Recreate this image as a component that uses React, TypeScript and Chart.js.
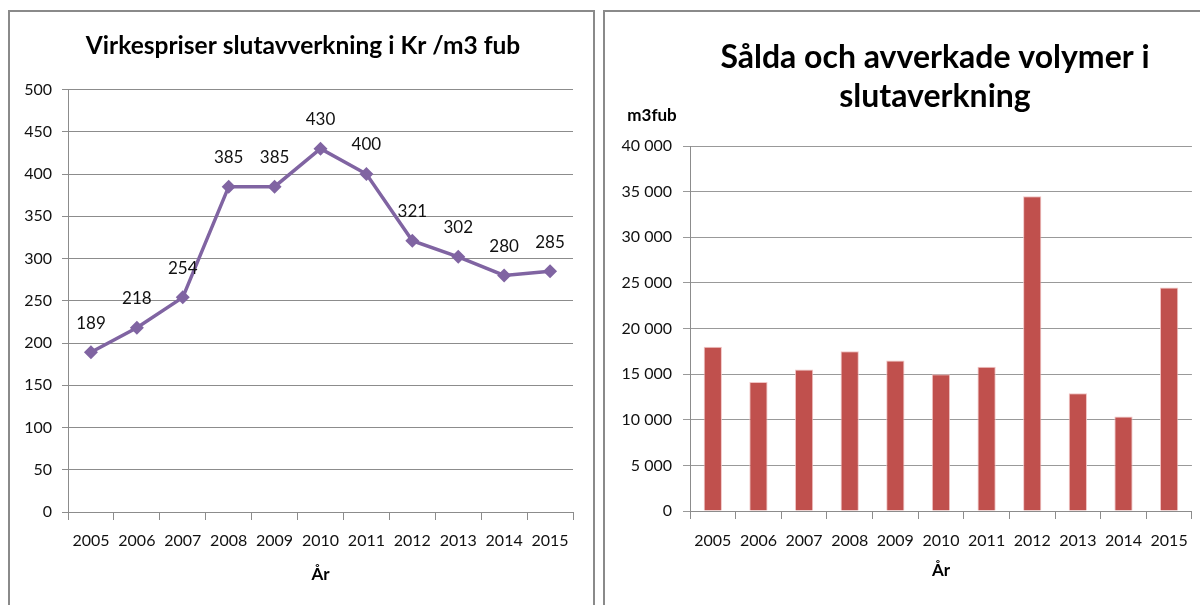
import React, { useEffect, useRef } from "react";
import { Chart, registerables } from "chart.js";

Chart.register(...registerables);

const years = ["2005", "2006", "2007", "2008", "2009", "2010", "2011", "2012", "2013", "2014", "2015"];
const prices = [189, 218, 254, 385, 385, 430, 400, 321, 302, 280, 285];
const volumes = [18000, 14150, 15500, 17500, 16500, 15000, 15800, 34500, 12900, 10350, 24500];

const leftTitle = "Virkespriser slutavverkning i Kr /m3 fub";
const rightTitle = ["Sålda och avverkade volymer i", "slutaverkning"];
const rightUnit = "m3fub";
const xTitle = "År";

const FONT = "Lato, 'Open Sans', sans-serif";
const GRID = "#8c8c8c";
const TEXT = "#111";

const fmt = (v: number) => String(v).replace(/\B(?=(\d{3})+(?!\d))/g, " ");

function LeftChart() {
  const ref = useRef<HTMLCanvasElement>(null);
  useEffect(() => {
    const titlePlugin = {
      id: "leftTitle",
      afterDraw(chart: any) {
        const { ctx } = chart;
        ctx.save();
        ctx.font = `bold 24.5px ${FONT}`;
        ctx.fillStyle = "#000";
        ctx.textAlign = "center";
        ctx.textBaseline = "middle";
        ctx.fillText(leftTitle, 293, 34);
        ctx.restore();
      },
    };
    const labelPlugin = {
      id: "pointLabels",
      afterDatasetsDraw(chart: any) {
        const { ctx } = chart;
        const meta = chart.getDatasetMeta(0);
        ctx.save();
        ctx.font = `17px ${FONT}`;
        ctx.fillStyle = TEXT;
        ctx.textAlign = "center";
        ctx.textBaseline = "middle";
        meta.data.forEach((el: any, i: number) => {
          ctx.fillText(String(prices[i]), el.x, el.y - 29);
        });
        ctx.restore();
      },
    };
    const chart = new Chart(ref.current!, {
      type: "line",
      data: {
        labels: years,
        datasets: [
          {
            data: prices,
            borderColor: "#8064A2",
            backgroundColor: "#8064A2",
            borderWidth: 3.5,
            tension: 0,
            pointStyle: "rectRot",
            pointRadius: 7,
            pointBorderWidth: 0,
            pointBackgroundColor: "#8064A2",
          },
        ],
      },
      options: {
        animation: false,
        responsive: false,
        layout: { padding: { left: 10, right: 19, top: 77.5, bottom: 0 } },
        plugins: { legend: { display: false }, title: { display: false }, tooltip: { enabled: false } },
        scales: {
          x: {
            offset: true,
            grid: { offset: true, drawOnChartArea: false, drawTicks: true, tickLength: 8, color: GRID },
            border: { display: true, color: GRID },
            ticks: { padding: 11, color: TEXT, font: { family: FONT, size: 16 } },
            title: {
              display: true,
              text: xTitle,
              color: "#000",
              font: { family: FONT, size: 17, weight: "bold" },
              padding: { top: 0, bottom: 20 },
            },
            afterFit(scale: any) {
              scale.height = 93;
            },
          },
          y: {
            min: 0,
            max: 500,
            ticks: { stepSize: 50, padding: 10, color: TEXT, font: { family: FONT, size: 16 } },
            grid: { color: GRID, tickLength: 6, drawTicks: true },
            border: { display: true, color: GRID },
            afterFit(scale: any) {
              scale.width = 48;
            },
          },
        },
      },
      plugins: [titlePlugin, labelPlugin],
    });
    return () => chart.destroy();
  }, []);
  return <canvas ref={ref} width={582} height={593} style={{ position: "absolute", left: 0, top: 0 }} />;
}

function RightChart() {
  const ref = useRef<HTMLCanvasElement>(null);
  useEffect(() => {
    const titlePlugin = {
      id: "rightTitle",
      afterDraw(chart: any) {
        const { ctx } = chart;
        ctx.save();
        ctx.fillStyle = "#000";
        ctx.textAlign = "center";
        ctx.textBaseline = "middle";
        ctx.font = `bold 32px ${FONT}`;
        ctx.fillText(rightTitle[0], 330, 46);
        ctx.fillText(rightTitle[1], 330, 85);
        ctx.font = `bold 17px ${FONT}`;
        ctx.fillText(rightUnit, 47, 104);
        ctx.restore();
      },
    };
    const chart = new Chart(ref.current!, {
      type: "bar",
      data: {
        labels: years,
        datasets: [
          {
            data: volumes,
            backgroundColor: "#C0504D",
            borderColor: "rgba(240,190,190,0.9)",
            borderWidth: 1,
            categoryPercentage: 1,
            barPercentage: 0.4,
          },
        ],
      },
      options: {
        animation: false,
        responsive: false,
        layout: { padding: { left: 10, right: 7, top: 134, bottom: 0 } },
        plugins: { legend: { display: false }, title: { display: false }, tooltip: { enabled: false } },
        scales: {
          x: {
            grid: { offset: true, drawOnChartArea: false, drawTicks: true, tickLength: 8, color: GRID },
            border: { display: true, color: GRID },
            ticks: { padding: 12, color: TEXT, font: { family: FONT, size: 16 } },
            title: {
              display: true,
              text: xTitle,
              color: "#000",
              font: { family: FONT, size: 17, weight: "bold" },
              padding: { top: 0, bottom: 24 },
            },
            afterFit(scale: any) {
              scale.height = 94;
            },
          },
          y: {
            min: 0,
            max: 40000,
            ticks: {
              stepSize: 5000,
              padding: 11,
              color: TEXT,
              font: { family: FONT, size: 16 },
              callback: (v: any) => fmt(Number(v)),
            },
            grid: { color: "#999", tickLength: 7, drawTicks: true },
            border: { display: true, color: GRID },
            afterFit(scale: any) {
              scale.width = 75;
            },
          },
        },
      },
      plugins: [titlePlugin],
    });
    return () => chart.destroy();
  }, []);
  return <canvas ref={ref} width={595} height={593} style={{ position: "absolute", left: 0, top: 0 }} />;
}

export default function App() {
  return (
    <div
      style={{
        position: "fixed",
        left: 0,
        top: 0,
        width: 1200,
        height: 605,
        overflow: "hidden",
        background: "#fff",
      }}
    >
      <div
        style={{
          position: "absolute",
          left: 8,
          top: 10,
          width: 587,
          height: 640,
          border: "2px solid #8a8a8a",
          boxSizing: "border-box",
        }}
      >
        <LeftChart />
      </div>
      <div
        style={{
          position: "absolute",
          left: 603,
          top: 10,
          width: 640,
          height: 640,
          border: "2px solid #8a8a8a",
          boxSizing: "border-box",
        }}
      >
        <RightChart />
      </div>
    </div>
  );
}
